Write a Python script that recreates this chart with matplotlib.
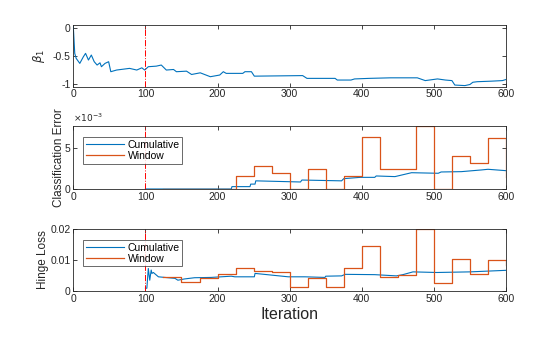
import matplotlib
matplotlib.use("Agg")
import matplotlib.pyplot as plt

plt.rcParams['font.family'] = ['Liberation Sans', 'DejaVu Sans']

# beta_1 estimate
beta_iter = [0, 2, 4, 9, 14, 17, 21, 25, 29, 33, 37, 39, 44, 49, 52, 60, 78, 88, 95, 99,
             104, 115, 122, 129, 139, 143, 157, 164, 176, 190, 203, 208, 212, 235, 238, 247,
             251, 318, 324, 363, 366, 385, 390, 410, 440, 477, 488, 505, 516, 525, 529, 543,
             550, 554, 560, 580, 595, 600]
beta_vals = [0.03, -0.45, -0.54, -0.63, -0.51, -0.45, -0.57, -0.48, -0.60, -0.66, -0.62, -0.69,
             -0.63, -0.60, -0.78, -0.75, -0.72, -0.75, -0.71, -0.75,
             -0.69, -0.68, -0.66, -0.75, -0.74, -0.78, -0.77, -0.83, -0.80, -0.87, -0.84, -0.78,
             -0.81, -0.81, -0.78, -0.78, -0.86, -0.85, -0.90, -0.90, -0.93, -0.93, -0.91, -0.90,
             -0.89, -0.89, -0.94, -0.91, -0.93, -0.94, -1.02, -1.03, -1.01, -0.97, -0.96, -0.95,
             -0.94, -0.92]

# classification error
ce_cum_iter = [100, 219, 220, 245, 246, 252, 253, 315, 317, 372, 375, 398, 418, 420, 446, 469,
               506, 510, 538, 566, 575, 600]
ce_cum_vals = [0, 0, 0.29e-3, 0.29e-3, 0.6e-3, 0.6e-3, 1.0e-3, 0.86e-3, 1.1e-3, 1.0e-3, 1.27e-3,
               1.43e-3, 1.43e-3, 1.6e-3, 1.52e-3, 2.0e-3, 1.93e-3, 2.09e-3, 2.13e-3, 2.34e-3,
               2.42e-3, 2.25e-3]
win_iter = [125, 150, 175, 200, 225, 250, 275, 300, 325, 350, 375, 400, 425, 450, 475, 500,
            525, 550, 575, 600]
ce_win_vals = [0, 0, 0, 0, 1.6e-3, 2.8e-3, 2.0e-3, 0, 2.5e-3, 0, 1.65e-3, 6.35e-3, 2.5e-3,
               2.5e-3, 7.72e-3, 0, 4.05e-3, 3.25e-3, 6.24e-3, 1.5e-3]

# hinge loss
hl_cum_iter = [100, 102, 104, 106, 108, 109, 111, 118, 127, 141, 145, 154, 168, 191, 219, 224,
               251, 252, 298, 321, 349, 350, 372, 377, 418, 448, 457, 471, 504, 550, 600]
hl_cum_vals = [0.0009, 0.0009, 0.0073, 0.0035, 0.0068, 0.0057, 0.0060, 0.0046, 0.0044, 0.0041,
               0.0035, 0.0039, 0.0043, 0.0044, 0.0048, 0.0046, 0.0046, 0.0057, 0.0046, 0.0046,
               0.0044, 0.0048, 0.0049, 0.0054, 0.0053, 0.0049, 0.0053, 0.0062, 0.0060, 0.0062,
               0.0067]
hl_win_vals = [0.0046, 0.0028, 0.0043, 0.0055, 0.0073, 0.0065, 0.0060, 0.0014, 0.0041, 0.0013,
               0.0073, 0.0146, 0.0046, 0.0052, 0.0201, 0.0027, 0.0105, 0.0055, 0.0100, 0.0084]

blue = '#0072BD'
orange = '#D95319'
dark = '#262626'

fig = plt.figure(figsize=(5.6, 3.37), dpi=100)
left, width = 0.1309, 0.7727
ax1 = fig.add_axes([left, 0.7427, width, 0.183])
ax2 = fig.add_axes([left, 0.4392, width, 0.187])
ax3 = fig.add_axes([left, 0.1365, width, 0.184])

ax1.plot(beta_iter, beta_vals, color=blue, lw=0.8)
ax1.set_ylim(-1.05, 0.06)
ax1.set_yticks([-1, -0.5, 0])
ax1.set_yticklabels(['-1', '-0.5', '0'])
ax1.set_ylabel(r'$\beta_1$', fontsize=8.5, color=dark)

ax2.plot(ce_cum_iter, ce_cum_vals, color=blue, lw=0.8, label='Cumulative')
ax2.plot(win_iter, ce_win_vals, color=orange, lw=0.9, drawstyle='steps-post', label='Window')
ax2.set_ylim(0, 7.74e-3)
ax2.set_yticks([0, 5e-3])
ax2.set_yticklabels(['0', '5'])
ax2.text(0.0, 1.03, r'$\times10^{-3}$', transform=ax2.transAxes, fontsize=6.5,
         color=dark, va='bottom', ha='left')
ax2.set_ylabel('Classification Error', fontsize=8.5, color=dark, labelpad=0)

ax3.plot(hl_cum_iter, hl_cum_vals, color=blue, lw=0.8, label='Cumulative')
ax3.plot(win_iter, hl_win_vals, color=orange, lw=0.9, drawstyle='steps-post', label='Window')
ax3.set_ylim(0, 0.0201)
ax3.set_yticks([0, 0.01, 0.02])
ax3.set_yticklabels(['0', '0.01', '0.02'])
ax3.set_ylabel('Hinge Loss', fontsize=8.5, color=dark, labelpad=1)
ax3.set_xlabel('Iteration', fontsize=11.5, color=dark, labelpad=2)

for ax in (ax1, ax2, ax3):
    ax.axvline(100, color='red', lw=0.7, ls='-.')
    ax.set_xlim(0, 600)
    ax.set_xticks(range(0, 601, 100))
    ax.tick_params(direction='in', top=True, right=True, labelsize=7.5, length=3,
                   width=0.6, colors=dark, pad=2)
    for s in ax.spines.values():
        s.set_color(dark)
        s.set_linewidth(0.6)

for ax in (ax2, ax3):
    leg = ax.legend(loc='upper left', bbox_to_anchor=(0.023, 0.82), fontsize=7.5,
                    frameon=True, fancybox=False, handlelength=3.7, borderpad=0.25,
                    labelspacing=0.1, handletextpad=0.3, borderaxespad=0)
    leg.get_frame().set_edgecolor(dark)
    leg.get_frame().set_linewidth(0.6)

fig.savefig('out.png', dpi=100)
